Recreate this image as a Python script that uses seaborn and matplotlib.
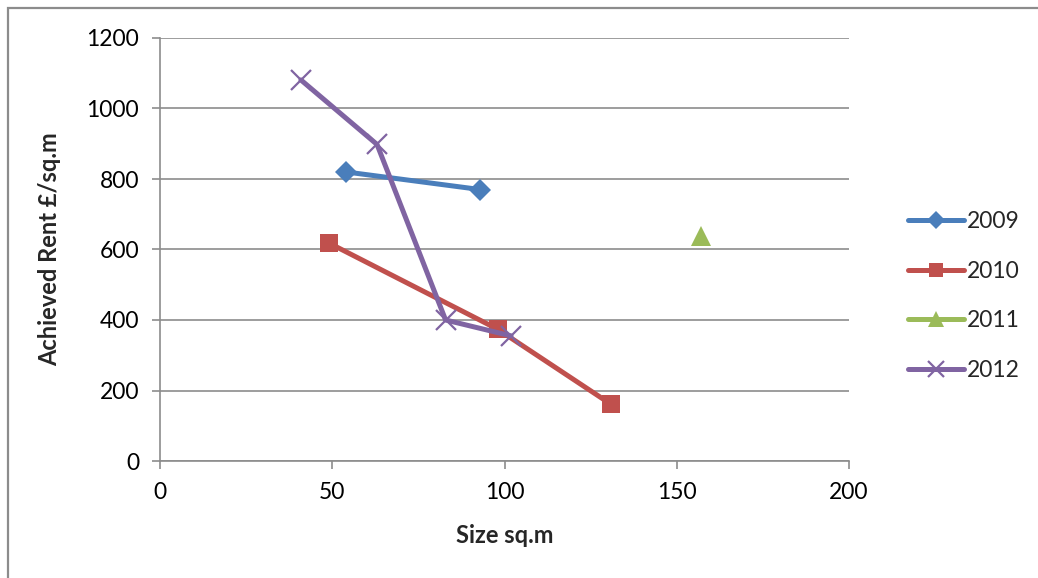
import matplotlib
matplotlib.use("Agg")
import matplotlib.pyplot as plt
import seaborn as sns
import pandas as pd
from matplotlib.patches import Rectangle

# Achieved rent by unit size, per letting year
size_2009 = [54.0, 93.0]
rent_2009 = [820, 770]
size_2010 = [49.1, 98.0, 130.9]
rent_2010 = [618, 374, 161]
size_2011 = [157.0]
rent_2011 = [638]
size_2012 = [40.9, 63.0, 82.9, 101.9]
rent_2012 = [1081, 898, 400, 355]

years = ["2009", "2010", "2011", "2012"]
series = {
    "2009": (size_2009, rent_2009),
    "2010": (size_2010, rent_2010),
    "2011": (size_2011, rent_2011),
    "2012": (size_2012, rent_2012),
}
x_ticks = [0, 50, 100, 150, 200]
y_ticks = [0, 200, 400, 600, 800, 1000, 1200]

styles = {
    "2009": dict(color="#4A7EBB", marker="D", markersize=11, markeredgewidth=0),
    "2010": dict(color="#C0504D", marker="s", markersize=13, markeredgewidth=0),
    "2011": dict(color="#9BBB59", marker="^", markersize=14, markeredgewidth=0),
    "2012": dict(color="#8064A2", marker="x", markersize=14, markeredgewidth=1.6),
}

rows = []
for y in years:
    xs, vs = series[y]
    for xv, rv in zip(xs, vs):
        rows.append({"year": y, "size": xv, "rent": rv})
df = pd.DataFrame(rows)

sns.set_theme(style="white")
plt.rcParams["font.family"] = ["Lato", "DejaVu Sans"]

fig = plt.figure(figsize=(10.38, 5.78), dpi=100)
ax = fig.add_axes([160 / 1038, 1 - 461 / 578, 689 / 1038, 423 / 578])

for y in years:
    sub = df[df["year"] == y]
    sns.lineplot(data=sub, x="size", y="rent", ax=ax, estimator=None, sort=False,
                 linewidth=3.6, label=y, solid_capstyle="round",
                 markeredgecolor=styles[y]["color"], **styles[y])

grid_c = "#8C8C8C"
ax.set_xlim(0, 200)
ax.set_ylim(0, 1200)
ax.set_xticks(x_ticks)
ax.set_yticks(y_ticks)
ax.yaxis.grid(True, color=grid_c, linewidth=1.2)
ax.set_axisbelow(True)
for s in ["top", "right"]:
    ax.spines[s].set_visible(False)
for s in ["left", "bottom"]:
    ax.spines[s].set_color(grid_c)
    ax.spines[s].set_linewidth(1.2)
ax.tick_params(axis="both", direction="out", length=6, width=1.2, color=grid_c,
               labelsize=16.5, labelcolor="black", left=True, bottom=True)
ax.tick_params(axis="x", pad=9)
ax.tick_params(axis="y", pad=9)

ax.set_xlabel("Size sq.m", fontsize=17, fontweight="bold", labelpad=15)
ax.set_ylabel("Achieved Rent \u00a3/sq.m", fontsize=17, fontweight="bold", labelpad=18)

leg = ax.legend(loc="center left", bbox_to_anchor=(908 / 1038, 1 - 296 / 578),
                bbox_transform=fig.transFigure, frameon=False, fontsize=16.5,
                handlelength=2.45, handletextpad=0.1, labelspacing=1.25,
                borderaxespad=0, borderpad=0)
for h in leg.legend_handles:
    h.set_markersize(h.get_markersize() * 0.8)

# chart area outline
fig.patches.append(Rectangle((7.5 / 1038, -0.1), 1.2, 1 - 8.5 / 578 + 0.1,
                             transform=fig.transFigure, fill=False,
                             edgecolor="#8C8C8C", linewidth=1.6))

fig.savefig("out.png", dpi=100)
